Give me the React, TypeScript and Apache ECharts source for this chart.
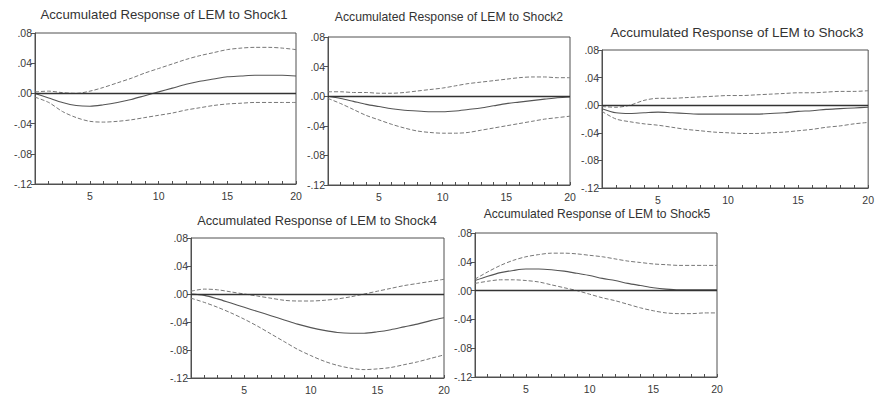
import React, { useEffect, useRef } from "react";
import * as echarts from "echarts";

const periods = [1, 2, 3, 4, 5, 6, 7, 8, 9, 10, 11, 12, 13, 14, 15, 16, 17, 18, 19, 20];

const titles = [
  "Accumulated Response of LEM to Shock1",
  "Accumulated Response of LEM to Shock2",
  "Accumulated Response of LEM to Shock3",
  "Accumulated Response of LEM to Shock4",
  "Accumulated Response of LEM to Shock5",
];

const yTicks = [-0.12, -0.08, -0.04, 0.0, 0.04, 0.08];
const xTickLabels = [5, 10, 15, 20];

// Shock1
const s1Resp = [0.0, -0.006, -0.012, -0.016, -0.017, -0.015, -0.012, -0.008, -0.003, 0.002, 0.007, 0.012, 0.016, 0.019, 0.022, 0.023, 0.024, 0.024, 0.024, 0.023];
const s1Upper = [0.002, 0.003, 0.001, 0.0, 0.003, 0.008, 0.014, 0.02, 0.027, 0.033, 0.039, 0.045, 0.05, 0.054, 0.058, 0.06, 0.061, 0.061, 0.06, 0.058];
const s1Lower = [-0.005, -0.012, -0.024, -0.032, -0.037, -0.038, -0.037, -0.035, -0.032, -0.029, -0.026, -0.022, -0.019, -0.016, -0.014, -0.013, -0.012, -0.012, -0.012, -0.012];

// Shock2
const s2Resp = [0.0, -0.003, -0.007, -0.011, -0.014, -0.017, -0.019, -0.02, -0.021, -0.021, -0.02, -0.018, -0.016, -0.013, -0.01, -0.008, -0.006, -0.004, -0.002, -0.001];
const s2Upper = [0.006, 0.006, 0.005, 0.005, 0.004, 0.004, 0.005, 0.007, 0.009, 0.011, 0.014, 0.017, 0.019, 0.021, 0.023, 0.025, 0.026, 0.026, 0.025, 0.025];
const s2Lower = [-0.003, -0.01, -0.018, -0.026, -0.032, -0.038, -0.043, -0.047, -0.049, -0.05, -0.05, -0.049, -0.046, -0.043, -0.04, -0.037, -0.034, -0.031, -0.029, -0.027];

// Shock3
const s3Resp = [-0.005, -0.011, -0.012, -0.011, -0.01, -0.011, -0.012, -0.013, -0.013, -0.013, -0.013, -0.013, -0.012, -0.011, -0.009, -0.008, -0.006, -0.005, -0.004, -0.003];
const s3Upper = [-0.002, -0.003, 0.0, 0.007, 0.01, 0.01, 0.011, 0.012, 0.013, 0.014, 0.014, 0.015, 0.016, 0.017, 0.018, 0.018, 0.019, 0.02, 0.02, 0.021];
const s3Lower = [-0.009, -0.02, -0.024, -0.027, -0.029, -0.032, -0.035, -0.037, -0.039, -0.04, -0.041, -0.041, -0.04, -0.039, -0.037, -0.035, -0.032, -0.03, -0.027, -0.025];

// Shock4
const s4Resp = [0.0, -0.002, -0.007, -0.013, -0.019, -0.025, -0.031, -0.037, -0.043, -0.048, -0.052, -0.055, -0.056, -0.056, -0.054, -0.051, -0.047, -0.043, -0.038, -0.034];
const s4Upper = [0.004, 0.007, 0.006, 0.003, 0.0, -0.003, -0.006, -0.009, -0.01, -0.01, -0.009, -0.007, -0.004, 0.0, 0.004, 0.008, 0.012, 0.015, 0.018, 0.021];
const s4Lower = [-0.006, -0.012, -0.019, -0.027, -0.036, -0.046, -0.057, -0.068, -0.079, -0.088, -0.096, -0.102, -0.106, -0.108, -0.107, -0.105, -0.101, -0.097, -0.092, -0.087];

// Shock5
const s5Resp = [0.014, 0.02, 0.025, 0.028, 0.03, 0.03, 0.029, 0.027, 0.024, 0.021, 0.017, 0.014, 0.01, 0.007, 0.004, 0.002, 0.001, 0.001, 0.001, 0.001];
const s5Upper = [0.016, 0.026, 0.035, 0.042, 0.047, 0.05, 0.052, 0.052, 0.051, 0.049, 0.047, 0.044, 0.041, 0.039, 0.037, 0.036, 0.035, 0.035, 0.035, 0.035];
const s5Lower = [0.01, 0.013, 0.015, 0.015, 0.014, 0.012, 0.008, 0.004, 0.0, -0.005, -0.01, -0.014, -0.019, -0.024, -0.028, -0.031, -0.032, -0.032, -0.031, -0.031];

const panels = [
  { resp: s1Resp, upper: s1Upper, lower: s1Lower },
  { resp: s2Resp, upper: s2Upper, lower: s2Lower },
  { resp: s3Resp, upper: s3Upper, lower: s3Lower },
  { resp: s4Resp, upper: s4Upper, lower: s4Lower },
  { resp: s5Resp, upper: s5Upper, lower: s5Lower },
];

// layout
const grids = [
  { left: 35, top: 33, width: 261, height: 151 },
  { left: 328, top: 37, width: 242, height: 148 },
  { left: 602, top: 50, width: 273, height: 138 },
  { left: 191, top: 238, width: 253, height: 140 },
  { left: 475, top: 233, width: 242, height: 144 },
];
const titlePos = [
  { x: 164, y: 14, size: 13.2 },
  { x: 449, y: 17, size: 12.2 },
  { x: 737, y: 32, size: 13.5 },
  { x: 317, y: 220, size: 12.8 },
  { x: 597, y: 214, size: 12.1 },
];

const fmtY = (v: number) => {
  const r = Math.round(v * 100) / 100;
  if (r === 0) return ".00";
  const s = Math.abs(r).toFixed(2).replace(/^0/, "");
  return (r < 0 ? "-" : "") + s;
};

export default function App() {
  const ref = useRef<HTMLDivElement>(null);
  useEffect(() => {
    if (!ref.current) return;
    const chart = echarts.init(ref.current, null, { renderer: "svg" });
    const frame = "#505050";
    const labelColor = "#3a3a3a";
    const font = "'Liberation Sans', Arial, sans-serif";

    const xAxis: any[] = [];
    const yAxis: any[] = [];
    const series: any[] = [];
    const graphic: any[] = [];

    grids.forEach((g, i) => {
      xAxis.push({
        type: "value",
        gridIndex: i,
        min: 1,
        max: 20,
        interval: 1,
        axisLine: { show: true, onZero: false, lineStyle: { color: frame, width: 1 } },
        axisTick: { show: true, inside: true, length: 3, lineStyle: { color: frame } },
        axisLabel: {
          color: labelColor,
          fontSize: 10.5,
          fontFamily: font,
          margin: 6,
          formatter: (v: number) => (xTickLabels.indexOf(v) >= 0 ? String(v) : ""),
        },
        splitLine: { show: false },
      });
      yAxis.push({
        type: "value",
        gridIndex: i,
        min: yTicks[0],
        max: yTicks[yTicks.length - 1],
        interval: 0.04,
        axisLine: { show: true, lineStyle: { color: frame, width: 1 } },
        axisTick: { show: true, inside: false, length: 4, lineStyle: { color: frame } },
        axisLabel: { color: labelColor, fontSize: 10.5, fontFamily: font, margin: 3, formatter: fmtY },
        splitLine: { show: false },
      });
      const p = panels[i];
      const toPts = (arr: number[]) => periods.map((x, k) => [x, arr[k]]);
      series.push({
        type: "line",
        xAxisIndex: i,
        yAxisIndex: i,
        data: toPts(p.resp),
        showSymbol: false,
        smooth: 0.3,
        lineStyle: { color: "#555", width: 1.1 },
        markLine: {
          silent: true,
          symbol: "none",
          label: { show: false },
          lineStyle: { color: "#333", width: 1.3, type: "solid" },
          data: [{ yAxis: 0 }],
        },
        z: 3,
      });
      series.push({
        type: "line",
        xAxisIndex: i,
        yAxisIndex: i,
        data: toPts(p.upper),
        showSymbol: false,
        smooth: 0.3,
        lineStyle: { color: "#777", width: 1, type: [4, 2] },
      });
      series.push({
        type: "line",
        xAxisIndex: i,
        yAxisIndex: i,
        data: toPts(p.lower),
        showSymbol: false,
        smooth: 0.3,
        lineStyle: { color: "#777", width: 1, type: [4, 2] },
      });
      graphic.push({
        type: "text",
        x: titlePos[i].x,
        y: titlePos[i].y,
        style: {
          text: titles[i],
          fill: "#333",
          font: `${titlePos[i].size}px ${font}`,
          textAlign: "center",
          textVerticalAlign: "middle",
        },
      });
    });

    chart.setOption({
      animation: false,
      backgroundColor: "#fff",
      grid: grids.map((g) => ({ ...g, show: true, borderColor: frame, borderWidth: 1, backgroundColor: "transparent" })),
      xAxis,
      yAxis,
      series,
      graphic,
    });
    return () => chart.dispose();
  }, []);
  return (
    <div
      ref={ref}
      style={{ position: "fixed", left: 0, top: 0, width: 877, height: 396, background: "#fff" }}
    />
  );
}
